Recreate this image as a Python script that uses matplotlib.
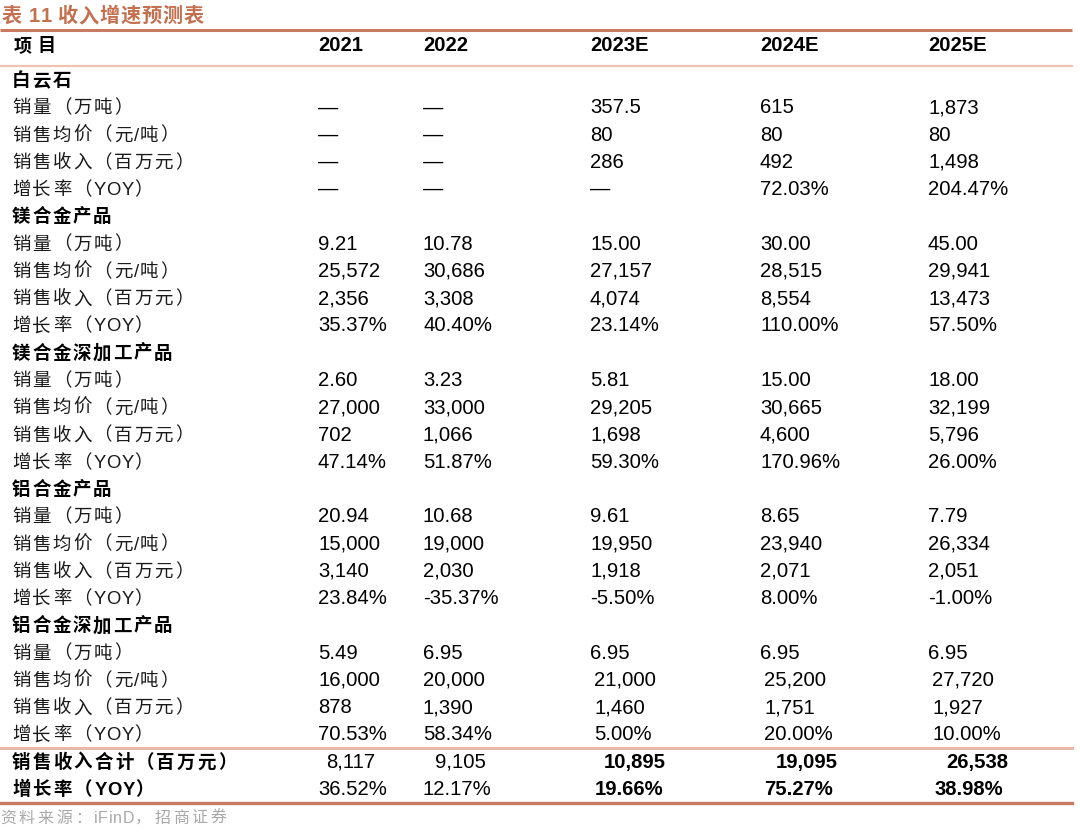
import matplotlib.pyplot as plt
from matplotlib.font_manager import FontProperties
from matplotlib.textpath import TextToPath

plt.rcParams['font.family'] = ['Liberation Sans', 'Noto Sans CJK SC', 'DejaVu Sans']

title = "表 11 收入增速预测表"
source = "资料来源：iFinD，招商证券"
years = ["2021", "2022", "2023E", "2024E", "2025E"]

groups = ["白云石", "镁合金产品", "镁合金深加工产品", "铝合金产品", "铝合金深加工产品"]
metrics = ["销量（万吨）", "销售均价（元/吨）", "销售收入（百万元）", "增长率（YOY）"]

dolomite = [
    ["—", "—", "357.5", "615", "1,873"],
    ["—", "—", "80", "80", "80"],
    ["—", "—", "286", "492", "1,498"],
    ["—", "—", "—", "72.03%", "204.47%"],
]
mg_alloy = [
    ["9.21", "10.78", "15.00", "30.00", "45.00"],
    ["25,572", "30,686", "27,157", "28,515", "29,941"],
    ["2,356", "3,308", "4,074", "8,554", "13,473"],
    ["35.37%", "40.40%", "23.14%", "110.00%", "57.50%"],
]
mg_deep = [
    ["2.60", "3.23", "5.81", "15.00", "18.00"],
    ["27,000", "33,000", "29,205", "30,665", "32,199"],
    ["702", "1,066", "1,698", "4,600", "5,796"],
    ["47.14%", "51.87%", "59.30%", "170.96%", "26.00%"],
]
al_alloy = [
    ["20.94", "10.68", "9.61", "8.65", "7.79"],
    ["15,000", "19,000", "19,950", "23,940", "26,334"],
    ["3,140", "2,030", "1,918", "2,071", "2,051"],
    ["23.84%", "-35.37%", "-5.50%", "8.00%", "-1.00%"],
]
al_deep = [
    ["5.49", "6.95", "6.95", "6.95", "6.95"],
    ["16,000", "20,000", "21,000", "25,200", "27,720"],
    ["878", "1,390", "1,460", "1,751", "1,927"],
    ["70.53%", "58.34%", "5.00%", "20.00%", "10.00%"],
]
total_labels = ["销售收入合计（百万元）", "增长率（YOY）"]
total_revenue = ["8,117", "9,105", "10,895", "19,095", "26,538"]
total_growth = ["36.52%", "12.17%", "19.66%", "75.27%", "38.98%"]

# ---- layout (pixels, measured from top-left) ----
W, H = 1080, 839
fig = plt.figure(figsize=(W / 100, H / 100), dpi=100)
ax = fig.add_axes([0, 0, 1, 1])
ax.set_xlim(0, W)
ax.set_ylim(H, 0)
ax.axis('off')

col_x = [318, 423, 590, 760, 928]
label_x = 12
row0 = 79
row_step = 27.27
base_off = 7          # baseline sits a bit below row centre
fs = 14.6
accent = '#C4704F'
light = '#EFC3B3'

t2p = TextToPath()


def spaced(x, y, s, size, track, weight='normal', color='black'):
    # Chinese labels in the source are set with loose letter spacing,
    # so place characters one by one
    px = size * 100 / 72
    latin = FontProperties(family='Liberation Sans', size=size, weight=weight)
    for ch in s:
        ax.text(x, y, ch, fontsize=size, fontweight=weight, color=color,
                va='baseline', ha='left')
        if ord(ch) > 0x2E80:
            x += px + track
        else:
            w, _, _ = t2p.get_text_width_height_descent(ch, latin, ismath=False)
            x += w * 100 / 72 + track * 0.3


spaced(2, 22, title, 14.5, 0.9, weight='bold', color=accent)
ax.plot([0, 1072], [30, 30], color='#C97A60', lw=2.2, solid_capstyle='butt')

# header
spaced(label_x + 2, 44 + base_off, "项目", 13.0, 5.0, weight='bold')
for x, y in zip(col_x, years):
    ax.text(x, 44 + base_off, y, fontsize=fs, fontweight='bold', va='baseline')
ax.plot([0, 1072], [66, 66], color=light, lw=1.6)

# body
blocks = [dolomite, mg_alloy, mg_deep, al_alloy, al_deep]
# small nudges seen in the source for a few cells
nudge = {(4, 1): [0, 0, 4, 4, 4], (4, 2): [0, 0, 4, 4, 4], (4, 3): [0, 0, 4, 4, 4]}
r = 0
for bi, (name, block) in enumerate(zip(groups, blocks)):
    y = row0 + r * row_step
    spaced(label_x, y + base_off, name, 13.3, 1.8, weight='bold')
    r += 1
    for mi, (metric, vals) in enumerate(zip(metrics, block)):
        y = row0 + r * row_step
        spaced(label_x, y + base_off, metric, 13.3, 1.9, color='#1a1a1a')
        dx = nudge.get((bi, mi), [0] * 5)
        for ci, v in enumerate(vals):
            ax.text(col_x[ci] + dx[ci], y + base_off, v, fontsize=fs,
                    va='baseline')
        r += 1

ax.plot([0, 1072], [747.5, 747.5], color='#E9B7A6', lw=2.2)

tot_dx = [[8, 12, 14, 16, 18], [0, 0, 5, 4, 7]]
for ti, (lab, vals) in enumerate(zip(total_labels, [total_revenue, total_growth])):
    y = row0 + r * row_step
    spaced(label_x, y + base_off, lab, 13.3, 2.1, weight='bold')
    for ci, v in enumerate(vals):
        ax.text(col_x[ci] + tot_dx[ti][ci], y + base_off, v, fontsize=fs,
                fontweight='bold' if ci >= 2 else 'normal', va='baseline')
    r += 1

ax.plot([0, 1072], [803, 803], color='#C97A60', lw=2.4)
spaced(0, 823, source, 11.5, 2.8, color='#A8A8A8')

fig.savefig('out.png', dpi=100)
